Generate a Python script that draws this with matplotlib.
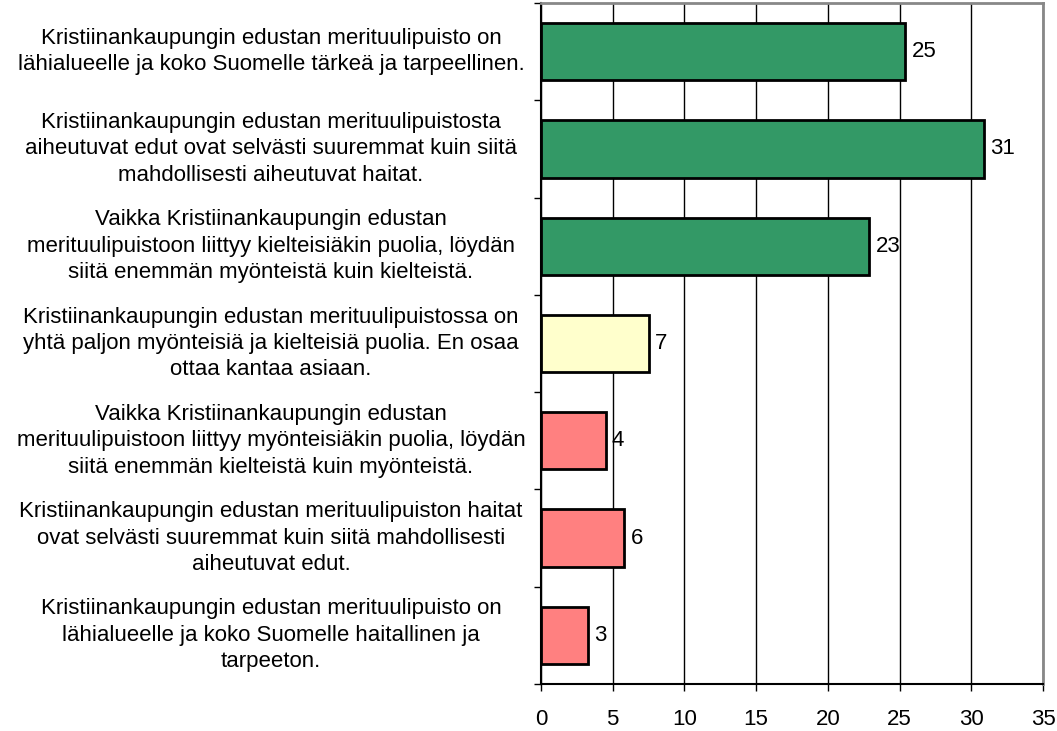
import matplotlib
matplotlib.use("Agg")
import matplotlib.pyplot as plt
import matplotlib.transforms as mtransforms

plt.rcParams['font.family'] = ['Liberation Sans', 'DejaVu Sans']

categories = [
    "Kristiinankaupungin edustan merituulipuisto on\nlähialueelle ja koko Suomelle tärkeä ja tarpeellinen.",
    "Kristiinankaupungin edustan merituulipuistosta\naiheutuvat edut ovat selvästi suuremmat kuin siitä\nmahdollisesti aiheutuvat haitat.",
    "Vaikka Kristiinankaupungin edustan\nmerituulipuistoon liittyy kielteisiäkin puolia, löydän\nsiitä enemmän myönteistä kuin kielteistä.",
    "Kristiinankaupungin edustan merituulipuistossa on\nyhtä paljon myönteisiä ja kielteisiä puolia. En osaa\nottaa kantaa asiaan.",
    "Vaikka Kristiinankaupungin edustan\nmerituulipuistoon liittyy myönteisiäkin puolia, löydän\nsiitä enemmän kielteistä kuin myönteistä.",
    "Kristiinankaupungin edustan merituulipuiston haitat\novat selvästi suuremmat kuin siitä mahdollisesti\naiheutuvat edut.",
    "Kristiinankaupungin edustan merituulipuisto on\nlähialueelle ja koko Suomelle haitallinen ja\ntarpeeton.",
]
values = [25.4, 30.9, 22.9, 7.5, 4.5, 5.8, 3.3]
value_labels = ["25", "31", "23", "7", "4", "6", "3"]
bar_colors = ["#339966", "#339966", "#339966", "#FFFFCC", "#FF8080", "#FF8080", "#FF8080"]
xticks = [0, 5, 10, 15, 20, 25, 30, 35]

FS = 16
W, H = 1057, 731
fig = plt.figure(figsize=(W / 100, H / 100), dpi=100)
ax = fig.add_axes([541 / W, 1 - 684 / H, (1043 - 541) / W, (684 - 3) / H])

n = len(categories)
ypos = list(range(n))
ax.barh(ypos, values, height=0.59, color=bar_colors, edgecolor="black", linewidth=2, zorder=3)
ax.set_ylim(n - 0.5, -0.5)
ax.set_xlim(0, 35)
ax.set_xticks(xticks)
ax.set_xticklabels([str(t) for t in xticks], fontsize=FS)
ax.tick_params(axis='x', direction='out', length=5, width=1, pad=13, color='black')

# category boundary ticks on y axis
ax.set_yticks([i - 0.5 for i in range(n + 1)])
ax.set_yticklabels([])
ax.tick_params(axis='y', direction='out', length=5, width=1, color='black')

ax.grid(axis='x', color='black', linewidth=1, zorder=0)
ax.set_axisbelow(True)

for side in ['top', 'right']:
    ax.spines[side].set_color('#888888')
    ax.spines[side].set_linewidth(2)
for side in ['left', 'bottom']:
    ax.spines[side].set_color('black')
    ax.spines[side].set_linewidth(1.5)

trans = mtransforms.blended_transform_factory(ax.transAxes, ax.transData)
for i, (cat, v, lab) in enumerate(zip(categories, values, value_labels)):
    ax.text((271 - 541) / (1043 - 541), i, cat, transform=trans, ha='center', va='center',
            multialignment='center', fontsize=FS, linespacing=1.34)
    ax.annotate(lab, (v, i), xytext=(4.5, 0), textcoords='offset points', ha='left', va='center',
                fontsize=FS, zorder=4)

fig.savefig("out.png", dpi=100)
